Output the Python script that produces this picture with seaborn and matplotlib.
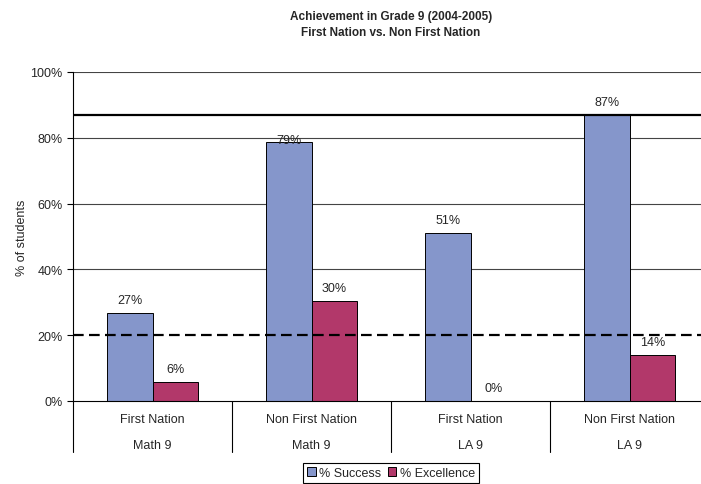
import matplotlib
matplotlib.use("Agg")
import matplotlib.pyplot as plt
import seaborn as sns
import pandas as pd
from matplotlib.patches import Patch

groups = ["First Nation", "Non First Nation", "First Nation", "Non First Nation"]
subjects = ["Math 9", "Math 9", "LA 9", "LA 9"]
success = [26.7, 78.7, 51.0, 87.0]
excellence = [5.8, 30.4, 0.0, 14.0]
series_names = ["% Success", "% Excellence"]
colors = ["#8596CB", "#B2386A"]
target_line = 87.0
benchmark_line = 20.0

cats = [f"{g}|{s}|{i}" for i, (g, s) in enumerate(zip(groups, subjects))]
df = pd.DataFrame({
    "cat": cats * 2,
    "series": [series_names[0]] * 4 + [series_names[1]] * 4,
    "value": success + excellence,
})

sns.set_style("white")
plt.rcParams["font.family"] = ["Liberation Sans", "DejaVu Sans"]

fig = plt.figure(figsize=(7.01, 4.85), dpi=100)
ax = fig.add_axes([73 / 701, 1 - 402 / 485, (709 - 73) / 701, (402 - 73) / 485])

sns.barplot(data=df, x="cat", y="value", hue="series", order=cats,
            hue_order=series_names, palette=colors, width=0.575,
            edgecolor="black", linewidth=0.7, saturation=1, ax=ax, legend=False)

ax.set_xlim(-0.5, 3.5)
ax.set_ylim(0, 100)
ax.set_yticks([0, 20, 40, 60, 80, 100])
ax.set_yticklabels([f"{v}%" for v in [0, 20, 40, 60, 80, 100]], fontsize=9)
ax.tick_params(axis="y", direction="out", length=4, width=0.8, pad=3.5, left=True, color="black")
ax.set_xticks([])
ax.set_xlabel("")
ax.set_ylabel("% of students", fontsize=9, labelpad=1.5)

for y in [40, 60, 80, 100]:
    ax.axhline(y, color="#444444", lw=0.8, zorder=0.5)
ax.axhline(target_line, color="black", lw=1.6, zorder=3)
ax.axhline(benchmark_line, color="black", lw=1.6, dashes=(4.8, 2.4), zorder=3)

for side in ["top", "right"]:
    ax.spines[side].set_visible(False)
for side in ["left", "bottom"]:
    ax.spines[side].set_color("black")
    ax.spines[side].set_linewidth(0.8)

# bar value labels
for cont in ax.containers:
    for bar in cont:
        h = bar.get_height()
        x = bar.get_x() + bar.get_width() / 2
        off = 1.5 if round(h) == 79 else 9.4
        ax.annotate(f"{round(h):.0f}%", (x, h), xytext=(0, off), textcoords="offset points",
                    ha="center", va="center", fontsize=9, zorder=4)

# multi-level category labels
trans = ax.get_xaxis_transform()
for i, (g, s) in enumerate(zip(groups, subjects)):
    ax.text(i, -18 / 329, g, transform=trans, ha="center", va="center", fontsize=9)
    ax.text(i, -44 / 329, s, transform=trans, ha="center", va="center", fontsize=9)
for b in [-0.5, 0.5, 1.5, 2.5, 3.5]:
    ax.plot([b, b], [0, -51 / 329], transform=trans, color="black", lw=0.8, clip_on=False)

handles = [Patch(facecolor=c, edgecolor="black", lw=0.7) for c in colors]
fig.legend(handles, series_names, loc="center", bbox_to_anchor=(391 / 701, 1 - 474 / 485),
           ncol=2, fontsize=9, frameon=True, fancybox=False, edgecolor="black",
           handlelength=0.7, handleheight=0.7, handletextpad=0.3, columnspacing=0.5,
           borderpad=0.3, framealpha=1).get_frame().set_linewidth(0.8)

fig.text(391 / 701, 1 - 17 / 485, "Achievement in Grade 9 (2004-2005)", ha="center", va="center",
         fontsize=8.5, fontweight="bold")
fig.text(391 / 701, 1 - 33 / 485, "First Nation vs. Non First Nation", ha="center", va="center",
         fontsize=8.5, fontweight="bold")

fig.savefig("out.png", dpi=100)
